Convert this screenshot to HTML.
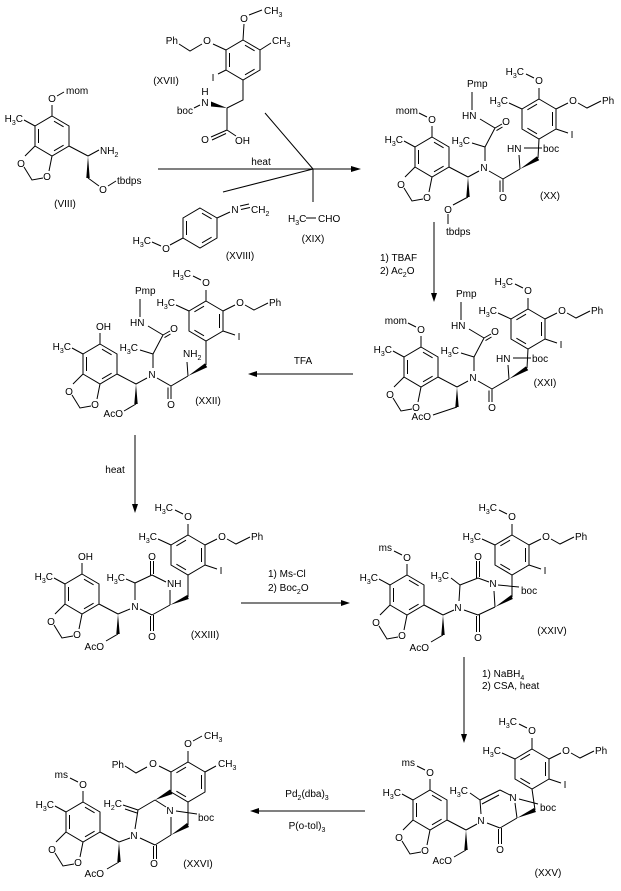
<!DOCTYPE html>
<html><head><meta charset="utf-8"><style>
html,body{margin:0;padding:0;background:#fff;}
svg{display:block;font-family:"Liberation Sans",Arial,sans-serif;font-size:10px;}
path{stroke:#000;stroke-width:1;fill:none;}
polygon{fill:#000;stroke:none;}
text{fill:#000;}
.m{text-anchor:middle}.e{text-anchor:end}
</style></head><body>
<svg width="621" height="891" viewBox="0 0 621 891">

<!-- VIII -->
<g transform="translate(52,136)">
<path d="M0,-20L17,-10L17,10L0,20L-17,10L-17,-10Z M2,-14.8L11.6,-9.2 M11.6,9.2L2,14.8 M-13.5,-7L-13.5,7 M0,-20L0,-31 M-17,-10L-28,-16 M-17,10L-27,20 M-28,31L-20,44L-9,42 M-3,35L0,20 M17,10L36,20 M36,20L47,14 M5,-40L12,-44 M36,42L47,50 M56,50L64,45"/>
<polygon points="36,20 34.3,42 37.7,42"/>
<text class="m" x="0" y="-34">O</text>
<text x="14" y="-42">mom</text>
<text class="e" x="-29" y="-14">H<tspan dy="3" font-size="7">3</tspan><tspan dy="-3">C</tspan></text>
<text class="m" x="-31" y="31">O</text>
<text class="m" x="-5" y="44">O</text>
<text x="48" y="18">NH<tspan dy="3" font-size="7">2</tspan></text>
<text class="m" x="51" y="57">O</text>
<text x="65" y="48">tbdps</text>
</g>
<text class="m" x="65" y="207">(VIII)</text>

<!-- XVII -->
<path d="M243,40L260,50L260,70L243,80L226,70L226,50Z M245,45.2L254.6,50.8 M254.6,69.2L245,74.8 M229.5,53L229.5,67 M243,40L244,24 M249,15L262,10 M260,50L271,43 M226,50L213,44 M202,44L190,51L179,44 M226,70L218,74 M243,80L243,100L227,108 M227,108L227,130 M227,130L211,137 M226,133.5L212,140 M227,130L236,136 M194,108L200,105"/>
<polygon points="227,108 211,101.5 211,106.5"/>
<text class="m" x="244" y="22">O</text>
<text x="264" y="14">CH<tspan dy="3" font-size="7">3</tspan></text>
<text x="272" y="44">CH<tspan dy="3" font-size="7">3</tspan></text>
<text class="m" x="207" y="44">O</text>
<text class="e" x="178" y="44">Ph</text>
<text class="m" x="213" y="81">I</text>
<text class="m" x="205" y="106">N</text>
<text class="m" x="205" y="95">H</text>
<text class="e" x="193" y="114">boc</text>
<text class="m" x="205" y="143">O</text>
<text x="235" y="144">OH</text>
<text class="m" x="166" y="84">(XVII)</text>

<!-- XVIII -->
<path d="M200,208L217,218L217,238L200,248L183,238L183,218Z M202,213.2L211.6,218.8 M211.6,237.2L202,242.8 M186.5,221L186.5,235 M217,218L230,212 M240,206L249,204 M241,209.5L250,207.5 M183,238L170,245 M152,242L161,246"/>
<text class="m" x="235" y="213">N</text>
<text x="251" y="213">CH<tspan dy="3" font-size="7">2</tspan></text>
<text class="m" x="166" y="252">O</text>
<text class="e" x="151" y="244">H<tspan dy="3" font-size="7">3</tspan><tspan dy="-3">C</tspan></text>
<text class="m" x="240" y="259">(XVIII)</text>

<!-- XIX -->
<text x="288" y="222">H<tspan dy="3" font-size="7">3</tspan><tspan dy="-3">C</tspan></text>
<path d="M306,218L316,218"/>
<text x="318" y="222">CHO</text>
<text class="m" x="313" y="242">(XIX)</text>

<!-- arrow 1 -->
<path d="M158,169L352,169 M265,113L313,169 M223,192L313,169 M313,169L313,202"/>
<polygon points="361,169 351,166 351,172"/>
<text class="m" x="261" y="165">heat</text>

<!-- XX -->
<g transform="translate(432,157)">
<path d="M0,-20L17,-10L17,10L0,20L-17,10L-17,-10Z M2,-14.8L11.6,-9.2 M11.6,9.2L2,14.8 M-13.5,-7L-13.5,7 M0,-20L0,-31 M-17,-10L-28,-16 M-17,10L-27,20 M-28,31L-20,44L-9,42 M-3,35L0,20 M17,10L36,20 M-5,-40L-13,-44 M36,40L21,48 M16,57L16,67 M36,20L47,14 M53,4L53,-10 M40,-14L53,-10 M53,-10L63,-29 M63,-29L70,-33 M64.5,-26.4L70.5,-30 M63,-29L48,-38 M40,-47L40,-65 M57,14L71,22 M71,22L71,35 M68,23.5L68,35 M71,22L88,12 M88,12L87,-2 M92,-9L110,-9 M106,1L107,-18"/>
<polygon points="36,20 34.3,40 37.7,40"/>
<polygon points="88,12 104.9,-0.6 107.2,3.2"/>
<text class="m" x="0" y="-34">O</text>
<text class="e" x="-14" y="-43">mom</text>
<text class="e" x="-29" y="-14">H<tspan dy="3" font-size="7">3</tspan><tspan dy="-3">C</tspan></text>
<text class="m" x="-31" y="31">O</text>
<text class="m" x="-5" y="44">O</text>
<text class="m" x="16" y="56">O</text>
<text x="14" y="78">tbdps</text>
<text class="m" x="52" y="14">N</text>
<text class="e" x="38" y="-13">H<tspan dy="3" font-size="7">3</tspan><tspan dy="-3">C</tspan></text>
<text class="m" x="74" y="-32">O</text>
<text x="30" y="-38">HN</text>
<text x="35" y="-70">Pmp</text>
<text class="m" x="71" y="44">O</text>
<text x="75" y="-5">HN</text>
<text x="111" y="-5">boc</text>
<text class="m" x="118" y="42">(XX)</text>
<g transform="translate(107,-38)">
<path d="M0,-20L17,-10L17,10L0,20L-17,10L-17,-10Z M13.5,-7L13.5,7 M-2,-14.8L-11.6,-9.2 M-11.6,9.2L-2,14.8 M0,-20L0,-31 M-5,-41L-13,-45 M-17,-10L-30,-16 M17,-10L29,-16 M39,-16L48,-11L62,-18 M17,10L29,14"/>
<text class="m" x="0" y="-35">O</text>
<text class="e" x="-15" y="-44">H<tspan dy="3" font-size="7">3</tspan><tspan dy="-3">C</tspan></text>
<text class="e" x="-31" y="-15">H<tspan dy="3" font-size="7">3</tspan><tspan dy="-3">C</tspan></text>
<text class="m" x="34" y="-15">O</text>
<text x="63" y="-15">Ph</text>
<text class="m" x="33" y="19">I</text>
</g>
</g>

<!-- arrow 2 -->
<path d="M434,222L434,294"/>
<polygon points="434,302 431,293 437,293"/>
<text x="380" y="261">1) TBAF</text>
<text x="380" y="274">2) Ac<tspan dy="3" font-size="7">2</tspan><tspan dy="-3">O</tspan></text>

<!-- XXI -->
<g transform="translate(421,367)">
<path d="M0,-20L17,-10L17,10L0,20L-17,10L-17,-10Z M2,-14.8L11.6,-9.2 M11.6,9.2L2,14.8 M-13.5,-7L-13.5,7 M0,-20L0,-31 M-17,-10L-28,-16 M-17,10L-27,20 M-28,31L-20,44L-9,42 M-3,35L0,20 M17,10L36,20 M-5,-40L-13,-44 M36,40L12,48 M36,20L47,14 M53,4L53,-10 M40,-14L53,-10 M53,-10L63,-29 M63,-29L70,-33 M64.5,-26.4L70.5,-30 M63,-29L48,-38 M40,-47L40,-65 M57,14L71,22 M71,22L71,35 M68,23.5L68,35 M71,22L88,12 M88,12L87,-2 M92,-9L110,-9 M106,1L107,-18"/>
<polygon points="36,20 34.3,40 37.7,40"/>
<polygon points="88,12 104.9,-0.6 107.2,3.2"/>
<text class="m" x="0" y="-34">O</text>
<text class="e" x="-14" y="-43">mom</text>
<text class="e" x="-29" y="-14">H<tspan dy="3" font-size="7">3</tspan><tspan dy="-3">C</tspan></text>
<text class="m" x="-31" y="31">O</text>
<text class="m" x="-5" y="44">O</text>
<text class="e" x="10" y="53">AcO</text>
<text class="m" x="52" y="14">N</text>
<text class="e" x="38" y="-13">H<tspan dy="3" font-size="7">3</tspan><tspan dy="-3">C</tspan></text>
<text class="m" x="74" y="-32">O</text>
<text x="30" y="-38">HN</text>
<text x="35" y="-70">Pmp</text>
<text class="m" x="71" y="44">O</text>
<text x="75" y="-5">HN</text>
<text x="111" y="-5">boc</text>
<text class="m" x="124" y="19">(XXI)</text>
<g transform="translate(107,-38)">
<path d="M0,-20L17,-10L17,10L0,20L-17,10L-17,-10Z M13.5,-7L13.5,7 M-2,-14.8L-11.6,-9.2 M-11.6,9.2L-2,14.8 M0,-20L0,-31 M-5,-41L-13,-45 M-17,-10L-30,-16 M17,-10L29,-16 M39,-16L48,-11L62,-18 M17,10L29,14"/>
<text class="m" x="0" y="-35">O</text>
<text class="e" x="-15" y="-44">H<tspan dy="3" font-size="7">3</tspan><tspan dy="-3">C</tspan></text>
<text class="e" x="-31" y="-15">H<tspan dy="3" font-size="7">3</tspan><tspan dy="-3">C</tspan></text>
<text class="m" x="34" y="-15">O</text>
<text x="63" y="-15">Ph</text>
<text class="m" x="33" y="19">I</text>
</g>
</g>

<!-- arrow 3 -->
<path d="M257,374L353,374"/>
<polygon points="248,374 257,371 257,377"/>
<text class="m" x="303" y="364">TFA</text>

<!-- XXII -->
<g transform="translate(100,364)">
<path d="M0,-20L17,-10L17,10L0,20L-17,10L-17,-10Z M2,-14.8L11.6,-9.2 M11.6,9.2L2,14.8 M-13.5,-7L-13.5,7 M0,-20L0,-31 M-17,-10L-28,-16 M-17,10L-27,20 M-28,31L-20,44L-9,42 M-3,35L0,20 M17,10L36,20 M36,40L24,47 M36,20L47,14 M53,4L53,-10 M40,-14L53,-10 M53,-10L63,-29 M63,-29L70,-33 M64.5,-26.4L70.5,-30 M63,-29L48,-38 M40,-47L40,-65 M57,14L71,22 M71,22L71,35 M68,23.5L68,35 M71,22L88,12 M88,12L87,-2 M106,1L106,-23"/>
<polygon points="36,20 34.3,40 37.7,40"/>
<polygon points="88,12 104.9,-0.6 107.2,3.2"/>
<text x="-4" y="-34">OH</text>
<text class="e" x="-29" y="-14">H<tspan dy="3" font-size="7">3</tspan><tspan dy="-3">C</tspan></text>
<text class="m" x="-31" y="31">O</text>
<text class="m" x="-5" y="44">O</text>
<text class="e" x="23" y="53">AcO</text>
<text class="m" x="52" y="14">N</text>
<text class="e" x="38" y="-13">H<tspan dy="3" font-size="7">3</tspan><tspan dy="-3">C</tspan></text>
<text class="m" x="74" y="-32">O</text>
<text x="30" y="-38">HN</text>
<text x="35" y="-70">Pmp</text>
<text class="m" x="71" y="44">O</text>
<text x="83" y="-7">NH<tspan dy="3" font-size="7">2</tspan></text>
<text class="m" x="108" y="40">(XXII)</text>
<g transform="translate(106,-43)">
<path d="M0,-20L17,-10L17,10L0,20L-17,10L-17,-10Z M13.5,-7L13.5,7 M-2,-14.8L-11.6,-9.2 M-11.6,9.2L-2,14.8 M0,-20L0,-31 M-5,-41L-13,-45 M-17,-10L-30,-16 M17,-10L29,-16 M39,-16L48,-11L62,-18 M17,10L29,14"/>
<text class="m" x="0" y="-35">O</text>
<text class="e" x="-15" y="-44">H<tspan dy="3" font-size="7">3</tspan><tspan dy="-3">C</tspan></text>
<text class="e" x="-31" y="-15">H<tspan dy="3" font-size="7">3</tspan><tspan dy="-3">C</tspan></text>
<text class="m" x="34" y="-15">O</text>
<text x="63" y="-15">Ph</text>
<text class="m" x="33" y="19">I</text>
</g>
</g>

<!-- arrow 4 -->
<path d="M135,435L135,505"/>
<polygon points="135,513 132,504 138,504"/>
<text class="m" x="115" y="473">heat</text>

<!-- XXIII -->
<g transform="translate(82,594)">
<path d="M0,-20L17,-10L17,10L0,20L-17,10L-17,-10Z M2,-14.8L11.6,-9.2 M11.6,9.2L2,14.8 M-13.5,-7L-13.5,7 M0,-20L0,-31 M-17,-10L-28,-16 M-17,10L-27,20 M-28,31L-20,44L-9,42 M-3,35L0,20 M17,10L36,20 M36,40L24,47 M36,20L48,15 M53,6L53,-11 M44,-15L53,-11 M53,-11L70,-19 M68.5,-19L68.5,-33 M71.5,-20L71.5,-33 M70,-19L84,-12 M88,-4L88,11 M88,11L70,21 M68.5,22L68.5,37 M71.5,21L71.5,37 M70,21L58,15 M106,3L106,-19"/>
<polygon points="36,20 34.3,40 37.7,40"/>
<polygon points="88,11 105.2,1 106.8,5"/>
<text x="-4" y="-34">OH</text>
<text class="e" x="-29" y="-14">H<tspan dy="3" font-size="7">3</tspan><tspan dy="-3">C</tspan></text>
<text class="m" x="-31" y="31">O</text>
<text class="m" x="-5" y="44">O</text>
<text class="e" x="22" y="56">AcO</text>
<text class="m" x="53" y="16">N</text>
<text class="e" x="43" y="-13">H<tspan dy="3" font-size="7">3</tspan><tspan dy="-3">C</tspan></text>
<text class="m" x="70" y="-34">O</text>
<text x="85" y="-7">NH</text>
<text class="m" x="70" y="46">O</text>
<text class="m" x="123" y="44">(XXIII)</text>
<g transform="translate(106,-39)">
<path d="M0,-20L17,-10L17,10L0,20L-17,10L-17,-10Z M13.5,-7L13.5,7 M-2,-14.8L-11.6,-9.2 M-11.6,9.2L-2,14.8 M0,-20L0,-31 M-5,-41L-13,-45 M-17,-10L-30,-16 M17,-10L29,-16 M39,-16L48,-11L62,-18 M17,10L29,14"/>
<text class="m" x="0" y="-35">O</text>
<text class="e" x="-15" y="-44">H<tspan dy="3" font-size="7">3</tspan><tspan dy="-3">C</tspan></text>
<text class="e" x="-31" y="-15">H<tspan dy="3" font-size="7">3</tspan><tspan dy="-3">C</tspan></text>
<text class="m" x="34" y="-15">O</text>
<text x="63" y="-15">Ph</text>
<text class="m" x="33" y="19">I</text>
</g>
</g>

<!-- arrow 5 -->
<path d="M241,603L342,603"/>
<polygon points="350,603 341,600 341,606"/>
<text x="268" y="577">1) Ms-Cl</text>
<text x="268" y="591">2) Boc<tspan dy="3" font-size="7">2</tspan><tspan dy="-3">O</tspan></text>

<!-- XXIV -->
<g transform="translate(407,595)">
<path d="M0,-20L17,-10L17,10L0,20L-17,10L-17,-10Z M2,-14.8L11.6,-9.2 M11.6,9.2L2,14.8 M-13.5,-7L-13.5,7 M0,-20L0,-31 M-17,-10L-28,-16 M-17,10L-27,20 M-28,31L-20,44L-9,42 M-3,35L0,20 M17,10L36,20 M-5,-40L-13,-44 M36,40L24,47 M36,20L47,15 M52,6L53,-10 M44,-17L53,-10 M53,-10L71,-17 M69.5,-17L69.5,-34 M72.5,-18L72.5,-34 M71,-17L82,-13 M91,-10L112,-8 M87,-4L88,12 M88,12L71,20 M69.5,21L69.5,37 M72.5,20L72.5,37 M71,20L57,15 M105,2L105,-20"/>
<polygon points="36,20 34.3,40 37.7,40"/>
<polygon points="88,12 104.2,0 105.8,4"/>
<text class="m" x="0" y="-34">O</text>
<text class="e" x="-15" y="-44">ms</text>
<text class="e" x="-29" y="-14">H<tspan dy="3" font-size="7">3</tspan><tspan dy="-3">C</tspan></text>
<text class="m" x="-31" y="31">O</text>
<text class="m" x="-5" y="44">O</text>
<text class="e" x="22" y="56">AcO</text>
<text class="m" x="51" y="16">N</text>
<text class="e" x="42" y="-16">H<tspan dy="3" font-size="7">3</tspan><tspan dy="-3">C</tspan></text>
<text class="m" x="71" y="-35">O</text>
<text class="m" x="86" y="-8">N</text>
<text x="114" y="-1">boc</text>
<text class="m" x="71" y="46">O</text>
<text class="m" x="145" y="39">(XXIV)</text>
<g transform="translate(105,-40)">
<path d="M0,-20L17,-10L17,10L0,20L-17,10L-17,-10Z M13.5,-7L13.5,7 M-2,-14.8L-11.6,-9.2 M-11.6,9.2L-2,14.8 M0,-20L0,-31 M-5,-41L-13,-45 M-17,-10L-30,-16 M17,-10L29,-16 M39,-16L48,-11L62,-18 M17,10L29,14"/>
<text class="m" x="0" y="-35">O</text>
<text class="e" x="-15" y="-44">H<tspan dy="3" font-size="7">3</tspan><tspan dy="-3">C</tspan></text>
<text class="e" x="-31" y="-15">H<tspan dy="3" font-size="7">3</tspan><tspan dy="-3">C</tspan></text>
<text class="m" x="34" y="-15">O</text>
<text x="63" y="-15">Ph</text>
<text class="m" x="33" y="19">I</text>
</g>
</g>

<!-- arrow 6 -->
<path d="M464,657L464,735"/>
<polygon points="464,743 461,734 467,734"/>
<text x="482" y="677">1) NaBH<tspan dy="3" font-size="7">4</tspan></text>
<text x="482" y="689">2) CSA, heat</text>

<!-- XXV -->
<g transform="translate(430,810)">
<path d="M0,-20L17,-10L17,10L0,20L-17,10L-17,-10Z M2,-14.8L11.6,-9.2 M11.6,9.2L2,14.8 M-13.5,-7L-13.5,7 M0,-20L0,-31 M-17,-10L-28,-16 M-17,10L-27,20 M-28,31L-20,44L-9,42 M-3,35L0,20 M17,10L36,20 M-5,-40L-13,-44 M36,40L24,47 M36,20L47,14 M51,4L50,-10 M40,-17L50,-10 M50,-10L70,-20 M52,-6L69,-15 M70,-20L80,-15 M89,-11L108,-6 M85,-7L87,8 M87,8L70,18 M68.5,19L68.5,34 M71.5,18L71.5,34 M70,18L57,13 M105,0L102,-21"/>
<polygon points="36,20 34.3,40 37.7,40"/>
<polygon points="87,8 104,-2 106,2"/>
<text class="m" x="0" y="-34">O</text>
<text class="e" x="-15" y="-44">ms</text>
<text class="e" x="-29" y="-14">H<tspan dy="3" font-size="7">3</tspan><tspan dy="-3">C</tspan></text>
<text class="m" x="-31" y="31">O</text>
<text class="m" x="-5" y="44">O</text>
<text class="e" x="22" y="54">AcO</text>
<text class="m" x="51" y="14">N</text>
<text class="e" x="38" y="-16">H<tspan dy="3" font-size="7">3</tspan><tspan dy="-3">C</tspan></text>
<text class="m" x="83" y="-9">N</text>
<text x="110" y="1">boc</text>
<text class="m" x="70" y="43">O</text>
<text class="m" x="118" y="66">(XXV)</text>
<g transform="translate(102,-41)">
<path d="M0,-20L17,-10L17,10L0,20L-17,10L-17,-10Z M13.5,-7L13.5,7 M-2,-14.8L-11.6,-9.2 M-11.6,9.2L-2,14.8 M0,-20L0,-31 M-5,-41L-13,-45 M-17,-10L-30,-16 M17,-10L29,-16 M39,-16L48,-11L62,-18 M17,10L29,14"/>
<text class="m" x="0" y="-35">O</text>
<text class="e" x="-15" y="-44">H<tspan dy="3" font-size="7">3</tspan><tspan dy="-3">C</tspan></text>
<text class="e" x="-31" y="-15">H<tspan dy="3" font-size="7">3</tspan><tspan dy="-3">C</tspan></text>
<text class="m" x="34" y="-15">O</text>
<text x="63" y="-15">Ph</text>
<text class="m" x="33" y="19">I</text>
</g>
</g>

<!-- arrow 7 -->
<path d="M259,811L365,811"/>
<polygon points="250,811 259,808 259,814"/>
<text class="m" x="307" y="797">Pd<tspan dy="3" font-size="7">2</tspan><tspan dy="-3">(dba)</tspan><tspan dy="3" font-size="7">3</tspan></text>
<text class="m" x="307" y="829">P(o-tol)<tspan dy="3" font-size="7">3</tspan></text>

<!-- XXVI -->
<g transform="translate(83,822)">
<path d="M0,-20L17,-10L17,10L0,20L-17,10L-17,-10Z M2,-14.8L11.6,-9.2 M11.6,9.2L2,14.8 M-13.5,-7L-13.5,7 M0,-20L0,-31 M-17,-10L-28,-16 M-17,10L-27,20 M-28,31L-20,44L-9,42 M-3,35L0,20 M17,10L36,20 M-5,-40L-13,-44 M36,40L24,47 M36,20L47,16 M52,7L55,-12 M55,-12L40,-17 M54,-9L42,-13 M55,-12L72,-22 M72,-22L83,-15 M93,-11L114,-8 M88,-5L88,13 M105,3L105,-20 M88,13L72,23 M70.5,24L70.5,37 M73.5,23L73.5,37 M72,23L57,16"/>
<polygon points="36,20 34.3,40 37.7,40"/>
<polygon points="72,-22 87,-32.5 89.5,-28"/>
<polygon points="88,13 104,1 106,5"/>
<text class="m" x="0" y="-34">O</text>
<text class="e" x="-15" y="-44">ms</text>
<text class="e" x="-29" y="-14">H<tspan dy="3" font-size="7">3</tspan><tspan dy="-3">C</tspan></text>
<text class="m" x="-31" y="31">O</text>
<text class="m" x="-5" y="44">O</text>
<text class="e" x="21" y="55">AcO</text>
<text class="m" x="51" y="17">N</text>
<text class="e" x="39" y="-15">H<tspan dy="3" font-size="7">2</tspan><tspan dy="-3">C</tspan></text>
<text class="m" x="87" y="-8">N</text>
<text x="115" y="-1">boc</text>
<text class="m" x="71" y="45">O</text>
<text class="m" x="115" y="45">(XXVI)</text>
<g transform="translate(105,-40)">
<path d="M0,-20L17,-10L17,10L0,20L-17,10L-17,-10Z M13.5,-7L13.5,7 M-2,-14.8L-11.6,-9.2 M-11.6,9.2L-2,14.8 M0,-20L0,-31 M5,-41L14,-46 M17,-10L28,-16 M-17,-10L-29,-16 M-41,-15L-52,-9L-63,-16"/>
<text class="m" x="0" y="-35">O</text>
<text x="16" y="-43">CH<tspan dy="3" font-size="7">3</tspan></text>
<text x="30" y="-15">CH<tspan dy="3" font-size="7">3</tspan></text>
<text class="m" x="-35" y="-15">O</text>
<text class="e" x="-64" y="-14">Ph</text>
</g>
</g>

</svg>
</body></html>
